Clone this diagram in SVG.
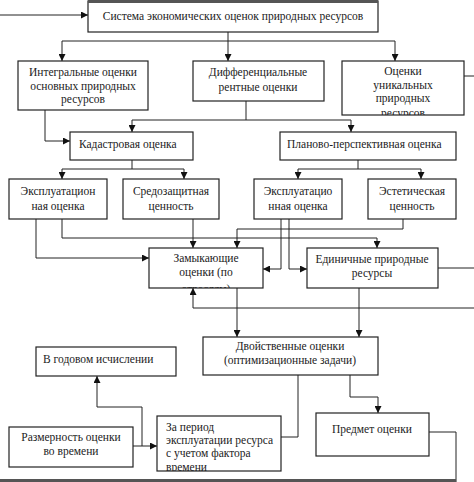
<svg xmlns="http://www.w3.org/2000/svg" width="474" height="482" viewBox="0 0 474 482" font-family="Liberation Serif, Times New Roman, serif">
<style>
.box{fill:#fff;stroke:#222;stroke-width:1.2}
.t{font-size:11.5px;fill:#222}
.c{text-anchor:middle}
.ln{fill:none;stroke:#222;stroke-width:1}
.a{marker-end:url(#ar)}
</style>
<defs>
<marker id="ar" viewBox="0 0 8 8" refX="8" refY="4" markerWidth="7" markerHeight="7" markerUnits="userSpaceOnUse" orient="auto">
<path d="M0,0 L8,4 L0,8 z" fill="#111"/>
</marker>
<clipPath id="cp3"><rect x="342" y="61" width="122" height="54"/></clipPath>
<clipPath id="cpz"><rect x="149" y="248" width="114" height="40"/></clipPath>
<clipPath id="cpp"><rect x="157" y="416" width="124" height="55"/></clipPath>
</defs>

<g id="connectors">
<path class="ln a" d="M0,15 H88"/>
<path class="ln" d="M228,32 V41 M62,41 H395"/>
<path class="ln a" d="M62,41 V61"/>
<path class="ln a" d="M228,41 V61"/>
<path class="ln a" d="M395,41 V61"/>
<path class="ln" d="M464,76 H474"/>
<path class="ln" d="M246,101 V120 M132,120 H351"/>
<path class="ln a" d="M132,120 V132"/>
<path class="ln a" d="M351,120 V132"/>
<path class="ln a" d="M45,110 V141 H70"/>
<path class="ln" d="M132,160 V169 M62,169 H184"/>
<path class="ln a" d="M62,169 V179"/>
<path class="ln a" d="M184,169 V179"/>
<path class="ln" d="M358,160 V169 M298,169 H421"/>
<path class="ln a" d="M298,169 V179"/>
<path class="ln a" d="M421,169 V179"/>
<path class="ln a" d="M36,219 V258 H149"/>
<path class="ln a" d="M62,219 V238 H377 V248"/>
<path class="ln a" d="M193,219 V248"/>
<path class="ln a" d="M403,219 V229 H237 V248"/>
<path class="ln a" d="M281,219 V269 H263"/>
<path class="ln a" d="M289,219 V269 H307"/>
<path class="ln" d="M438,268 H474"/>
<path class="ln a" d="M474,308 H193 V288"/>
<path class="ln a" d="M237,288 V337"/>
<path class="ln a" d="M359,288 V337"/>
<path class="ln a" d="M350,375 V397 H378 V413"/>
<path class="ln" d="M298,375 V437 H281"/>
<path class="ln a" d="M133,446 H157"/>
<path class="ln a" d="M142,446 V407 H97 V376"/>
<path class="ln" d="M429,432 H456 V482"/>
<path d="M0,480.5 H456" fill="none" stroke="#555" stroke-width="3"/>
</g>

<g id="n-system">
<rect class="box" x="88" y="1" width="290" height="31"/>
<path d="M88,1.5 H378" stroke="#555" stroke-width="3" fill="none"/>
<text class="t c" x="233" y="20">Система экономических оценок природных ресурсов</text>
</g>
<g id="n-integral">
<rect class="box" x="18" y="61" width="130" height="49"/>
<text class="t c" x="83" y="76">Интегральные оценки</text>
<text class="t c" x="83" y="89.5">основных природных</text>
<text class="t c" x="83" y="103">ресурсов</text>
</g>
<g id="n-diff">
<rect class="box" x="193" y="61" width="131" height="40"/>
<text class="t c" x="258" y="76">Дифференциальные</text>
<text class="t c" x="258" y="91">рентные оценки</text>
</g>
<g id="n-unique">
<rect class="box" x="342" y="61" width="122" height="54"/>
<g clip-path="url(#cp3)">
<text class="t c" x="403" y="75">Оценки</text>
<text class="t c" x="403" y="89">уникальных</text>
<text class="t c" x="403" y="102">природных</text>
<text class="t c" x="403" y="116.5">ресурсов</text>
</g>
</g>
<g id="n-kadastr">
<rect class="box" x="70" y="132" width="123" height="28"/>
<text class="t" x="79" y="148">Кадастровая оценка</text>
</g>
<g id="n-planovo">
<rect class="box" x="280" y="132" width="176" height="28"/>
<text class="t" x="287" y="148">Планово-перспективная оценка</text>
</g>
<g id="n-expl1">
<rect class="box" x="9" y="179" width="98" height="40"/>
<text class="t c" x="58" y="195">Эксплуатацион</text>
<text class="t c" x="58" y="210">ная оценка</text>
</g>
<g id="n-sredo">
<rect class="box" x="123" y="179" width="96" height="40"/>
<text class="t c" x="171" y="195">Средозащитная</text>
<text class="t c" x="171" y="210">ценность</text>
</g>
<g id="n-expl2">
<rect class="box" x="254" y="179" width="88" height="40"/>
<text class="t c" x="298" y="195">Эксплуатацио</text>
<text class="t c" x="298" y="210">нная оценка</text>
</g>
<g id="n-estet">
<rect class="box" x="368" y="179" width="88" height="40"/>
<text class="t c" x="412" y="195">Эстетическая</text>
<text class="t c" x="412" y="210">ценность</text>
</g>
<g id="n-zamyk">
<rect class="box" x="149" y="248" width="114" height="40"/>
<g clip-path="url(#cpz)">
<text class="t c" x="206" y="262">Замыкающие</text>
<text class="t c" x="206" y="276">оценки (по</text>
<text class="t c" x="206" y="292.5">отраслям)</text>
</g>
</g>
<g id="n-edin">
<rect class="box" x="307" y="248" width="131" height="40"/>
<text class="t c" x="372" y="263">Единичные природные</text>
<text class="t c" x="372" y="277">ресурсы</text>
</g>
<g id="n-dvoist">
<rect class="box" x="203" y="337" width="175" height="38"/>
<text class="t c" x="290" y="350">Двойственные оценки</text>
<text class="t c" x="290" y="364">(оптимизационные задачи)</text>
</g>
<g id="n-god">
<rect class="box" x="36" y="347" width="140" height="29"/>
<text class="t" x="43" y="363">В годовом исчислении</text>
</g>
<g id="n-razm">
<rect class="box" x="9" y="427" width="124" height="40"/>
<text class="t c" x="71" y="441">Размерность оценки</text>
<text class="t c" x="71" y="455">во времени</text>
</g>
<g id="n-period">
<rect class="box" x="157" y="416" width="124" height="55"/>
<g clip-path="url(#cpp)">
<text class="t" x="166" y="431">За период</text>
<text class="t" x="166" y="444">эксплуатации ресурса</text>
<text class="t" x="166" y="457">с учетом фактора</text>
<text class="t" x="166" y="471">времени</text>
</g>
</g>
<g id="n-predmet">
<rect class="box" x="316" y="413" width="113" height="43"/>
<text class="t c" x="372" y="433">Предмет оценки</text>
</g>
</svg>
